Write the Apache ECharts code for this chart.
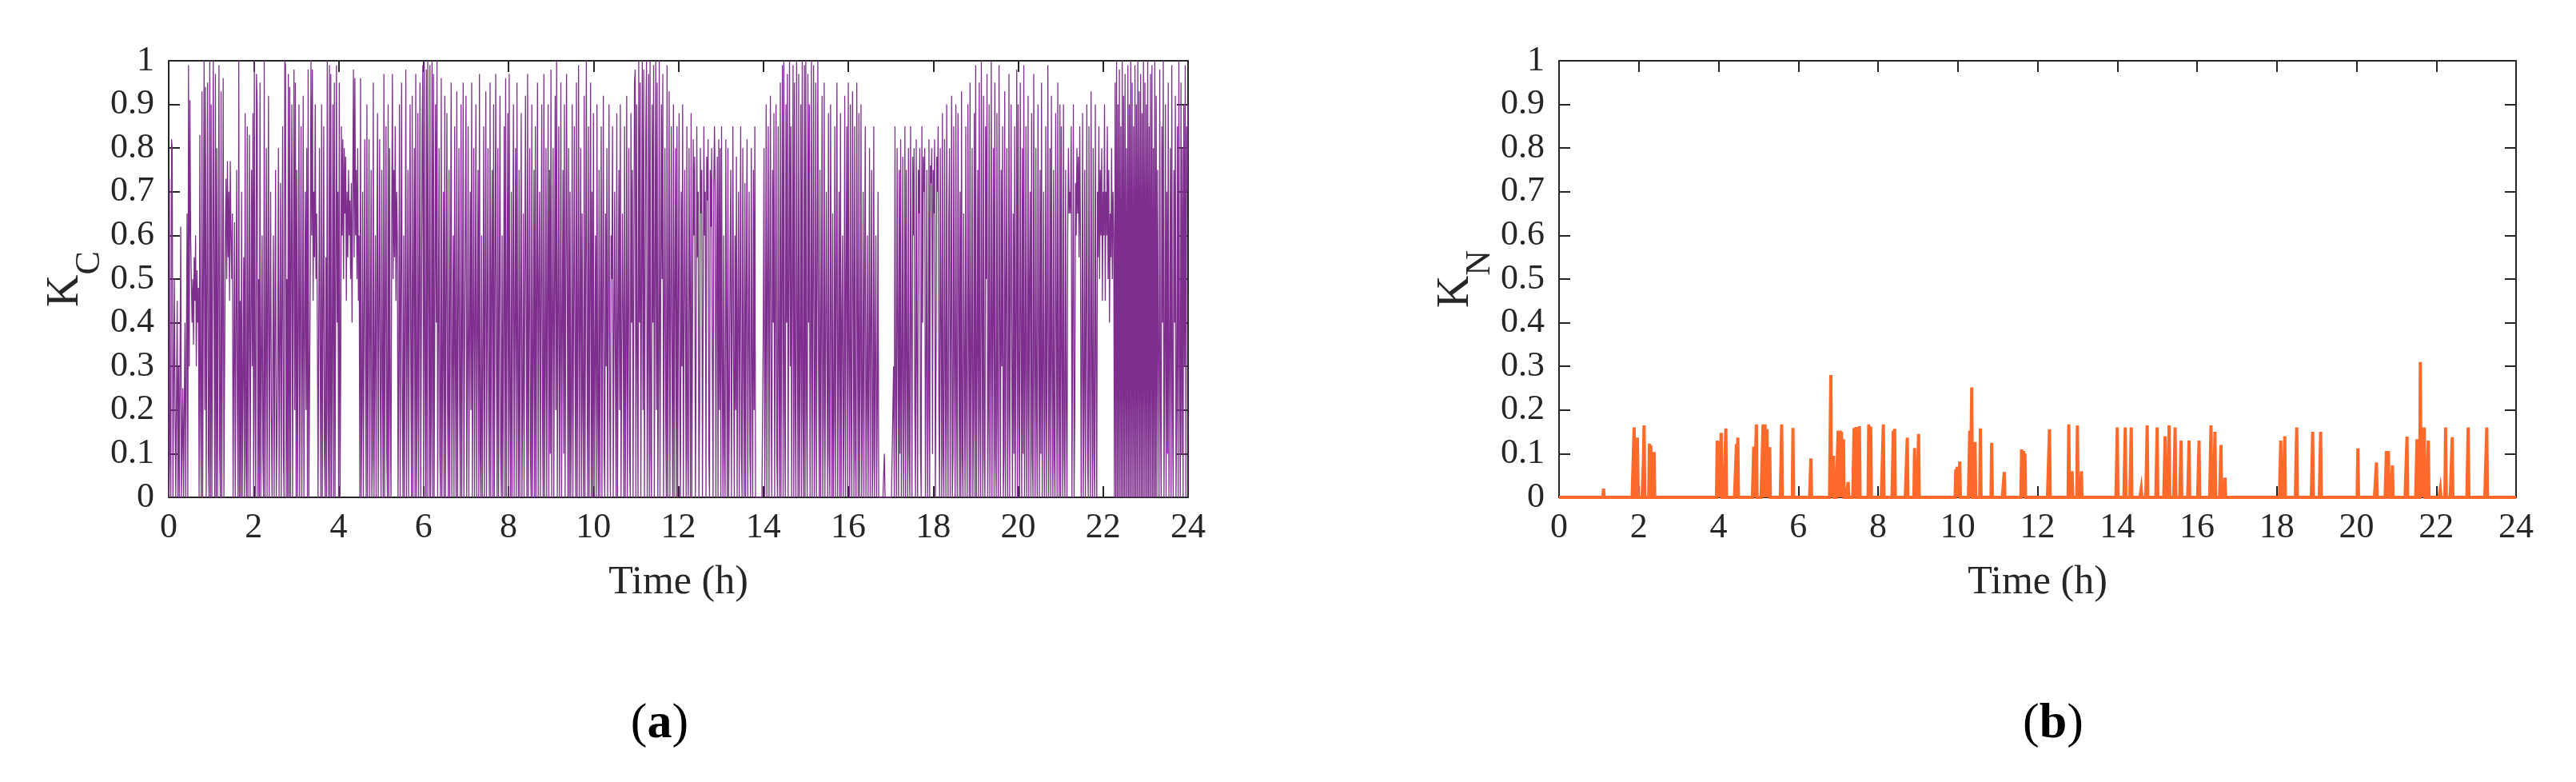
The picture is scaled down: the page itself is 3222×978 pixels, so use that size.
<!DOCTYPE html>
<html><head><meta charset="utf-8">
<script src="https://cdn.jsdelivr.net/npm/echarts@6/dist/echarts.min.js"></script>
<style>html,body{margin:0;padding:0;background:#fff}#c{width:3222px;height:978px}</style>
</head><body><div id="c"></div><script>
// ---------- DATA ----------
const xTickValues = [0,2,4,6,8,10,12,14,16,18,20,22,24];
const yTickValues = [0,0.1,0.2,0.3,0.4,0.5,0.6,0.7,0.8,0.9,1];
// K_C: one row per hour, 60 samples (one per minute)
const kcH00 = [0,0.73,0.1,0,0.82,0.8,0,0,0.5,0.2, 0,0,0.45,0,0.3,0,0,0.62,0,0, 0.25,0,0,0.4,0,0,0.65,0,0.99,0.3, 0.91,0.6,0.5,0.4,0.5,0.35,0.55,0.45,0.6,0.3, 0.52,0.4,0.48,0,0.83,0.2,0,0.93,0,0, 1.0,0.2,0.94,0,0,0.95,0.1,0,1.0,0];
const kcH01 = [0.9,0,0,1.0,0.5,0,0.97,0,0.8,0, 0,0.99,0.1,0,0.93,0,0.4,0.96,0,0, 0.6,0.73,0.5,0.77,0.55,0.7,0.45,0.77,0.6,0.5, 0.65,0,0.3,0.63,0,0,0.75,0.2,0,1.0, 0,0.45,0,0.7,0,0,0.55,0,0.88,0.1, 0,0.85,0,0.4,0.83,0,0,0.75,0.3,0.88];
const kcH02 = [0,1.0,0.2,0,0.97,0.9,0,0.5,0,0.95, 0,0,0.6,0.1,0,1.0,0,0.3,0.8,0, 0,0.92,0,0,0.7,0.2,0,0,0.6,0, 0.4,0.75,0,0,0.3,0.8,0,0,0.72,0, 0,0.85,0.1,0,1.0,0.99,0,0.5,0,0.97, 0,0.94,0,0.6,0.9,0,0,0.98,0.2,0.95];
const kcH03 = [0,0.75,0,0.4,0.9,0,0,0.85,0,0.3, 0.92,0,0,0.7,0.2,0.8,0,0.98,0,0, 0.5,1.0,0.6,0.98,0.45,0.7,0.55,0.9,0.5,0.65, 0.4,0,0,0.8,0.3,0,0.9,0,0,0.85, 0.1,0,0.55,0,1.0,0.2,0,0.99,0,0.97, 0,0.3,0.9,0,0.95,0,0,0.99,0.4,0.7];
const kcH04 = [0,0.95,0,0.3,0.85,0.6,0.82,0.5,0.8,0.65, 0.78,0.45,0.7,0.55,0.75,0.6,0.68,0.5,0.72,0.4, 0.7,0.98,0.55,0.96,0.6,0.75,0.5,0.8,0.45,0.6, 0,0.96,0,0.2,0.7,0,0,0.82,0.3,0, 0.9,0,0.4,0.82,0,0,0.75,0,0.1,0.95, 0,0,0.6,0,0.5,0.88,0,0,0.82,0.2];
const kcH05 = [0,0.75,0.3,0,0.97,0,0,0.85,0.1,0, 0.9,0,0.8,0.2,0,0.6,0.97,0.5,0.75,0.55, 0.85,0.45,0.7,0.6,0,0.3,0.9,0,0,0.95, 0.2,0,0.6,0,0.4,0.98,0,0,0.75,0, 0,0.9,0.3,0,0.92,0,0.5,0.8,0,0.97, 0,0.2,0.88,0,0,0.95,0,0.4,0.85,0.99];
const kcH06 = [0,1.0,0.3,0,0.98,0,1.0,0.5,0,0.99, 0,0.2,1.0,0,0.97,0,0,0.9,0.4,1.0, 0,0,0.8,0.1,0,0.96,0,0.3,0.7,0, 0.92,0,0,0.88,0.2,0,0.75,0,0.5,0.95, 0,0,0.6,0,0.85,0.3,0,0.93,0,0, 0.8,0.2,0,0.9,0,0.4,0.95,0,0,0.65];
const kcH07 = [0.92,0,0.3,0.85,0,0,0.7,0.2,0.95,0, 0,0.8,0,0.4,0.9,0,0,0.75,0,0.97, 0.1,0,0.6,0,0.3,0.85,0,0,0.93,0, 0,0.8,0.2,0,0.95,0,0.5,0.75,0,0.9, 0,0,0.97,0.3,0,0.8,0,0,0.92,0.1, 0,0.6,0,0.4,0.85,0,0.96,0,0,0.88];
const kcH08 = [0,0.97,0.2,0,0.7,0,0.5,0.9,0,0, 0.8,0,0.95,0.3,0,0.75,0,0,0.88,0, 0.2,0.65,0,0,0.92,0.4,0,0.97,0,0, 0.8,0.1,0,0.9,0,0.3,0.75,0,0.85,0, 0,0.95,0,0.5,0.7,0,0,0.9,0.2,0, 0.97,0,0.3,0.8,0,0,0.9,0,0.75,0.1];
const kcH09 = [0.98,0,0.4,0.8,0,0,0.92,0.2,1.0,0, 0,0.85,0,0.3,0.95,0,0,0.75,0.1,0.9, 0,0,0.97,0.5,0,0.8,0,0.7,0,0.2, 0.9,0,0,0.85,0.3,0,0.95,0,0.4,0.99, 0,0,0.8,0,0.65,0.2,0,0.92,0,0, 1.0,0.3,0,0.85,0,0.5,0.95,0,0.7,0];
const kcH10 = [0.88,0,0.3,0.6,0,0.9,0.2,0,0.75,0, 0.4,0.85,0,0,0.92,0.1,0,0.65,0.3,0.8, 0,0,0.9,0.2,0,0.6,0.5,0.85,0,0, 0.7,0.3,0,0.88,0,0,0.75,0.2,0.9,0, 0,0.65,0.4,0,0.85,0,0.3,0.92,0,0, 0.8,0.1,0,0.88,0.4,0.75,0,0,0.95,0.98];
const kcH11 = [0,0.9,0.3,0,1.0,0.4,0.95,0,0,1.0, 0.2,0.98,0,0.5,0.85,1.0,0,0.3,0.97,0, 1.0,0.1,0,0.9,0.4,0.99,0,0,1.0,0.2, 0.95,0,0.3,1.0,0,0,0.9,0.5,0.97,0, 0,0.8,0.2,0,0.99,0,0.4,0.93,0,0, 0.85,0.3,0,0.9,0,0.5,0.8,0,0.85,0];
const kcH12 = [0,0.88,0.2,0,0.7,0.3,0.9,0,0,0.75, 0.4,0,0.85,0.1,0,0.8,0.5,0,0.88,0, 0,0.82,0.6,0.78,0,0.3,0.85,0.55,0.7,0, 0.2,0.8,0.65,0.75,0,0.4,0.85,0.6,0.7,0, 0.78,0.68,0.82,0.1,0,0.75,0.62,0.8,0.3,0, 0.72,0.85,0.7,0,0.5,0.78,0,0.82,0.2,0.8];
const kcH13 = [0,0.85,0.3,0,0.6,0.1,0,0.82,0.4,0, 0.8,0,0.2,0.55,0.75,0,0,0.85,0.3,0, 0.6,0.2,0.78,0,0.4,0.7,0,0,0.85,0.1, 0,0.8,0.3,0,0.72,0,0.5,0.82,0,0, 0.7,0.1,0,0.8,0.3,0,0.75,0.2,0.85,0, 0,0,0,0,0,0,0,0,0,0];
const kcH14 = [0.4,0.8,0,0.3,0.9,0,0.5,0.85,0,0, 0.92,0.2,0,0.75,0.4,0.88,0,0,0.9,0.1, 0,0.85,0.3,0,0.95,0,0.5,0.99,0,1.0, 0.2,0,0.9,0.4,0.97,0,0,1.0,0.3,0.85, 0,0.5,0.99,0,0.95,0.2,0,1.0,0.4,0, 0.97,0,0.3,0.9,0,1.0,0.2,0,0.99,0];
const kcH15 = [1.0,0.2,0,0.97,0.4,0.9,0,0.3,1.0,0, 0.5,0.99,0,0.2,0.95,0,0,1.0,0.3,0, 0.75,0,0.4,0.92,0,0.2,0.95,0,0,0.7, 0.3,0,0.88,0.1,0,0.9,0.4,0,0.65,0, 0.2,0.85,0,0.5,0.95,0,0.3,0.7,0,0.88, 0,0.4,0.6,0,0.2,0.92,0,0.5,0.85,0];
const kcH16 = [0.95,0.3,0,0.9,0.2,0,0.93,0.5,0,0.85, 0.1,0,0.95,0.4,0,0.88,0,0.3,0.9,0, 0.2,0.7,0,0.5,0.85,0,0.2,0.6,0,0.3, 0.8,0,0.4,0.75,0,0.1,0.85,0,0.3,0.6, 0,0.2,0.7,0,0,0,0,0,0,0, 0,0.1,0,0,0,0,0,0,0,0];
const kcH17 = [0,0,0,0,0.3,0,0.85,0.2,0,0.8, 0.4,0,0.75,0.1,0.82,0,0.3,0.78,0,0.2, 0.85,0,0.75,0.3,0,0.8,0.1,0,0.85,0.4, 0,0.78,0.6,0.8,0.2,0,0.82,0.3,0,0.75, 0.65,0.8,0.1,0,0.85,0.4,0.78,0.7,0.8,0, 0.3,0.75,0,0.2,0.82,0,0.76,0.72,0.8,0.1];
const kcH18 = [0.75,0.65,0.82,0,0.3,0.78,0.7,0.85,0.2,0, 0.8,0.4,0,0.88,0.1,0,0.82,0.3,0,0.9, 0.2,0,0.65,0.8,0,0.4,0.92,0,0.1,0.85, 0.3,0,0.9,0.2,0,0.88,0.5,0,0.7,0, 0.93,0.1,0,0.65,0.3,0,0.85,0.2,0,0.9, 0.4,0,0.95,0,0.3,0.8,0,0.2,0.88,0];
const kcH19 = [0.99,0,0.3,0.75,0,0.95,0.2,0,1.0,0.4, 0,0.92,0.1,0,0.85,0.5,0.97,0,0.2,0.9, 0,0.3,1.0,0,0.4,0.8,0,0.95,0.1,0, 0.88,0.2,0,0.99,0.4,0,0.75,0.3,0.85,0, 0.1,0.93,0,0.5,0.8,0,0.2,0.97,0,0, 0.9,0.3,0,0.65,0.1,0.85,0,0.4,0.98,0];
const kcH20 = [0.9,0.2,0,0.95,0.4,0,0.8,0.1,0.99,0, 0.3,0.85,0,0.2,0.92,0,0.5,0.7,0,0.88, 0.1,0,0.97,0.3,0,0.8,0.2,0,0.9,0.4, 0,0.75,0.1,0.95,0,0.3,0.7,0,0.2,0.85, 0,0.4,0.99,0,0.2,0.8,0,0.92,0.3,0, 0.75,0.1,0,0.88,0.4,0,0.95,0.2,0,0.9];
const kcH21 = [0,0.85,0.3,0,0.9,0.1,0,0.75,0.2,0, 0.6,0.8,0.65,0.7,0.65,0.85,0,0.4,0.9,0, 0.2,0.72,0.6,0.8,0.65,0.78,0.55,0.85,0.6,0, 0.3,0.88,0,0.2,0.75,0,0.4,0.9,0.1,0, 0.85,0.2,0,0.93,0.3,0,0.8,0.1,0,0.9, 0.3,0,0.7,0.55,0.85,0.5,0.75,0.6,0.8,0.45];
const kcH22 = [0.7,0.6,0.9,0.45,0.7,0.6,0.85,0.5,0.75,0.4, 0.65,0.55,0.8,0.5,0.7,0.6,0,0.95,0,1.0, 0,0.9,0,0.98,0,0.85,0,1.0,0,0.92, 0,0.97,0,0.8,0,0.99,0,0.9,0,1.0, 0,0.95,0,0.85,0,0.99,0,0.9,0,1.0, 0,0.93,0,0.97,0,0.88,0,1.0,0,0.95];
const kcH23 = [0,0.9,0,1.0,0,0.85,0,0.97,0,0.99, 0,0.8,0,1.0,0,0.92,0,0.75,0.3,0, 0.98,0.2,0,0.85,0.4,1.0,0,0.3,0.9,0, 0.7,0.1,0.95,0,0.3,0.8,0,0.99,0.2,0, 0.75,0.4,0.92,0,0.2,0.85,0,1.0,0.3,0, 0.95,0.1,0.8,0,0.9,0.3,0.99,0,0.85,0.7];
const kcEndValue = 0.9; // value at 24 h
const kcHours = [kcH00,kcH01,kcH02,kcH03,kcH04,kcH05,kcH06,kcH07,kcH08,kcH09,kcH10,kcH11,kcH12,kcH13,kcH14,kcH15,kcH16,kcH17,kcH18,kcH19,kcH20,kcH21,kcH22,kcH23];

// K_N: spike times (h) and heights; zero elsewhere
const knSpikeTimes = [1.12,1.89,1.96,2.11,2.13,2.27,2.30,2.38,3.96,4.0,4.07,4.18,4.45,4.49,4.89,4.95,5.12,5.17,5.21,5.28,5.59,5.86,6.32,6.82,6.89,7.0,7.05,7.08,7.13,7.25,7.4,7.45,7.54,7.77,7.82,8.13,8.38,8.42,8.74,8.92,9.02,9.95,9.99,10.05,10.3,10.35,10.43,10.56,10.85,11.16,11.6,11.65,11.69,12.3,12.78,12.87,13.0,13.1,14.0,14.2,14.35,14.6,14.75,15.0,15.2,15.3,15.45,15.6,15.8,16.05,16.35,16.45,16.6,16.7,18.1,18.2,18.5,18.9,19.1,20.04,20.5,20.75,20.8,20.9,21.27,21.52,21.6,21.65,21.7,21.8,22.1,22.24,22.4,22.8,23.26];
const knSpikeValues = [0.02,0.16,0.137,0.082,0.165,0.123,0.119,0.104,0.13,0.128,0.148,0.158,0.122,0.137,0.116,0.167,0.167,0.167,0.156,0.115,0.167,0.159,0.089,0.28,0.095,0.153,0.153,0.15,0.133,0.035,0.159,0.161,0.163,0.167,0.162,0.167,0.153,0.157,0.137,0.113,0.145,0.064,0.07,0.082,0.153,0.252,0.127,0.158,0.125,0.058,0.11,0.106,0.1,0.156,0.167,0.06,0.165,0.06,0.16,0.16,0.16,0.02,0.165,0.16,0.14,0.165,0.16,0.13,0.13,0.13,0.165,0.15,0.12,0.045,0.13,0.14,0.16,0.15,0.15,0.112,0.08,0.106,0.106,0.073,0.139,0.133,0.31,0.16,0.16,0.13,0.019,0.16,0.138,0.16,0.16];

// ---------- BUILD ----------
const kcData = [];
kcHours.forEach((row, h) => row.forEach((v, j) => kcData.push([h + j / row.length, v])));
kcData.push([24, kcEndValue]);
const knMap = new Map(knSpikeTimes.map((t, i) => [Math.round(t * 60), knSpikeValues[i]]));
const knData = [];
for (let m = 0; m <= 1440; m++) knData.push([m / 60, knMap.has(m) ? knMap.get(m) : 0]);

const FONT = 'Liberation Serif';
const INK = '#262626';
const axLine = {show: true, onZero: false, lineStyle: {color: INK, width: 2}};
const axTick = {show: true, inside: true, length: 14, lineStyle: {color: INK, width: 2}};
const fmtY = v => String(+v.toFixed(1));

function xAxes(gi) {
  const base = {type: 'value', gridIndex: gi, min: xTickValues[0], max: xTickValues[xTickValues.length - 1], interval: 2, splitLine: {show: false}, axisLine: axLine, axisTick: axTick};
  return [
    Object.assign({}, base, {position: 'bottom', name: 'Time (h)', nameLocation: 'middle', nameGap: 82,
      nameTextStyle: {fontFamily: FONT, fontSize: 50, color: INK},
      axisLabel: {show: true, margin: 16, fontFamily: FONT, fontSize: 44, color: INK}}),
    Object.assign({}, base, {position: 'top', axisLabel: {show: false}})
  ];
}
function yAxes(gi, sub) {
  const base = {type: 'value', gridIndex: gi, min: yTickValues[0], max: yTickValues[yTickValues.length - 1], interval: 0.1, splitLine: {show: false}, axisLine: axLine, axisTick: axTick};
  return [
    Object.assign({}, base, {position: 'left', name: '{k|K}{s|' + sub + '}', nameLocation: 'middle', nameGap: 100,
      nameTextStyle: {fontFamily: FONT, color: INK, rich: {
        k: {fontFamily: FONT, fontSize: 56, lineHeight: 56, color: INK},
        s: {fontFamily: FONT, fontSize: 44, lineHeight: 44, color: INK, padding: [60, 0, 0, 0]}
      }},
      axisLabel: {show: true, margin: 18, fontFamily: FONT, fontSize: 44, color: INK, formatter: fmtY}}),
    Object.assign({}, base, {position: 'right', axisLabel: {show: false}})
  ];
}

const chart = echarts.init(document.getElementById('c'), null, {renderer: 'canvas'});
chart.setOption({
  animation: false,
  backgroundColor: '#ffffff',
  grid: [
    {left: 211, top: 76, width: 1275, height: 546, containLabel: false},
    {left: 1950, top: 76, width: 1197, height: 546, containLabel: false}
  ],
  xAxis: [...xAxes(0), ...xAxes(1)],
  yAxis: [...yAxes(0, 'C'), ...yAxes(1, 'N')],
  title: [
    {text: '({b|a})', left: 820, top: 870, textAlign: 'center',
      textStyle: {fontFamily: FONT, fontSize: 62, fontWeight: 'normal', color: '#000', rich: {b: {fontFamily: FONT, fontSize: 62, fontWeight: 'bold', color: '#000'}}}},
    {text: '({b|b})', left: 2563, top: 870, textAlign: 'center',
      textStyle: {fontFamily: FONT, fontSize: 62, fontWeight: 'normal', color: '#000', rich: {b: {fontFamily: FONT, fontSize: 62, fontWeight: 'bold', color: '#000'}}}}
  ],
  series: [
    {type: 'line', xAxisIndex: 0, yAxisIndex: 0, data: kcData, showSymbol: false, symbol: 'none', sampling: null,
      lineStyle: {color: '#7E2F8E', width: 1.3}, clip: true, z: 1},
    {type: 'line', xAxisIndex: 2, yAxisIndex: 2, data: knData, showSymbol: false, symbol: 'none',
      lineStyle: {color: '#FF6A2B', width: 4, join: 'miter'}, clip: true, z: 1}
  ]
});
</script></body></html>
